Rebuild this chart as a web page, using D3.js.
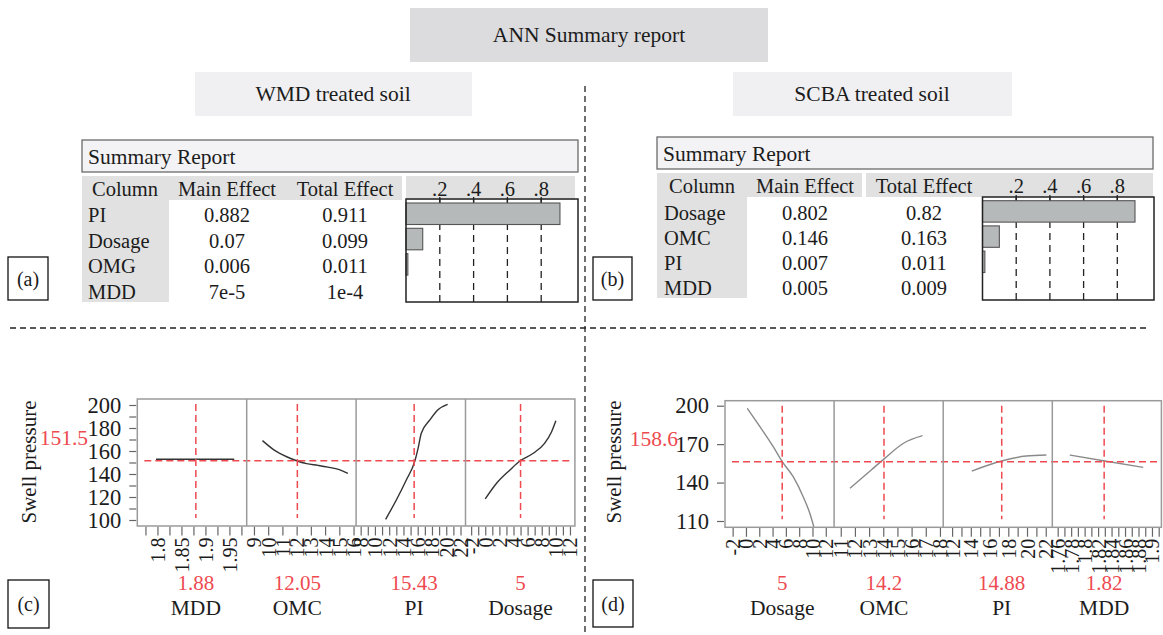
<!DOCTYPE html>
<html lang="en">
<head>
<meta charset="utf-8">
<title>ANN Summary report</title>
<style>
  body { margin: 0; background: #fff; }
  svg { font-family: "Liberation Serif", "DejaVu Serif", serif; }
</style>
</head>
<body>
<div class="graph"></div>
<script src="https://d3js.org/d3.v7.min.js"></script>
<script>
// ---- data ----
var effectTicks = [".2", ".4", ".6", ".8"];
var tableColumns = ["Column", "Main Effect", "Total Effect"];

var wmdFactors = ["PI", "Dosage", "OMG", "MDD"];
var wmdMain = ["0.882", "0.07", "0.006", "7e-5"];
var wmdTotal = ["0.911", "0.099", "0.011", "1e-4"];
var wmdBars = [0.911, 0.099, 0.011, 0.0001];

var scbaFactors = ["Dosage", "OMC", "PI", "MDD"];
var scbaMain = ["0.802", "0.146", "0.007", "0.005"];
var scbaTotal = ["0.82", "0.163", "0.011", "0.009"];
var scbaBars = [0.905, 0.1, 0.014, 0];   // bar lengths as drawn

// prediction profiler, WMD treated soil (c)
var wmdProfNames = ["MDD", "OMC", "PI", "Dosage"];
var wmdProfValues = ["1.88", "12.05", "15.43", "5"];
var wmdProfRefX = [1.88, 12.05, 15.5, 5];
var wmdProfDomains = [[1.758, 1.986], [8.49, 16.18], [7.36, 22.7], [-2.8, 12.7]];
var wmdProfTickLabels = [
  ["1.8", "1.85", "1.9", "1.95"],
  ["9", "10", "11", "12", "13", "14", "15", "16"],
  ["8", "10", "12", "14", "16", "18", "20", "22"],
  ["-2", "0", "2", "4", "6", "8", "10", "12"]
];
var wmdProfTickStep = [0.025, 1, 1, 1];
var wmdCurveX = [
  [1.797, 1.96],
  [9.6, 10.4, 11.3, 12.0, 12.7, 13.5, 14.2, 15.0, 15.6],
  [11.5, 13.0, 14.4, 15.6, 16.05, 16.5, 17.7, 18.8, 20.2],
  [0, 1.6, 3.5, 4.9, 6.8, 8.4, 9.4, 10]
];
var wmdCurveY = [
  [152.8, 152.8],
  [169, 161, 155, 151.5, 149, 147.5, 146, 143.8, 140.6],
  [100.6, 117.4, 134.8, 151.3, 162.3, 175.4, 187, 195.7, 200.6],
  [118.3, 131.9, 143.5, 151.3, 158, 166.7, 176.8, 186.3]
];
var wmdYLabels = ["100", "120", "140", "160", "180", "200"];
var wmdRefY = 151.5;
var wmdRefLabel = "151.5";

// prediction profiler, SCBA treated soil (d)
var scbaProfNames = ["Dosage", "OMC", "PI", "MDD"];
var scbaProfValues = ["5", "14.2", "14.88", "1.82"];
var scbaProfRefX = [5.45, 14.05, 17.3, 1.829];
var scbaProfDomains = [[-3.15, 13.25], [10.53, 18.23], [11.05, 22.7], [1.752, 1.914]];
var scbaProfTickLabels = [
  ["-2", "0", "2", "4", "6", "8", "10", "12"],
  ["11", "12", "13", "14", "15", "16", "17", "18"],
  ["12", "14", "16", "18", "20", "22"],
  ["1.76", "1.78", "1.8", "1.82", "1.84", "1.86", "1.88", "1.9"]
];
var scbaProfTickStep = [2, 1, 1, 0.01];
var scbaCurveX = [
  [0.2, 2.1, 4.1, 5.45, 7.1, 8.6, 9.6, 10.2],
  [11.65, 13.15, 14.1, 15.43, 16.77],
  [14.1, 17.3, 19.9, 22.07],
  [1.778, 1.83, 1.887]
];
var scbaCurveY = [
  [198, 183.6, 168, 156.3, 144.6, 129, 116, 105.5],
  [135.5, 149.8, 158.9, 170.7, 176.6],
  [149, 156.8, 160.7, 161.5],
  [161.5, 156.8, 151.9]
];
var scbaYLabels = ["110", "140", "170", "200"];
var scbaRefY = 156.3;
var scbaRefLabel = "158.6";

// ---- drawing ----
var RED = "#ee4a50";
var INK = "#1c1c1c";
var SERIF = "'Liberation Serif', 'DejaVu Serif', serif";

var svg = d3.select(".graph").append("svg")
  .attr("width", 1163).attr("height", 635);

function label(g, x, y, txt, size, anchor, color) {
  return g.append("text").attr("x", x).attr("y", y).attr("dy", "0.35em")
    .attr("text-anchor", anchor || "middle")
    .style("font-size", size + "px").attr("fill", color || INK).text(txt);
}

// titles
svg.append("rect").attr("x", 410).attr("y", 8).attr("width", 358).attr("height", 54).attr("fill", "#dcdcdf");
label(svg, 589, 34, "ANN Summary report", 21.5);
svg.append("rect").attr("x", 195).attr("y", 72).attr("width", 277).attr("height", 44).attr("fill", "#f0f0f2");
label(svg, 333, 93, "WMD treated soil", 21.5);
svg.append("rect").attr("x", 733).attr("y", 72).attr("width", 279).attr("height", 44).attr("fill", "#f0f0f2");
label(svg, 872, 93, "SCBA treated soil", 21.5);

// dashed separators
svg.append("line").attr("x1", 585).attr("x2", 585).attr("y1", 86).attr("y2", 635)
  .attr("stroke", "#222").attr("stroke-width", 1.3).attr("stroke-dasharray", "6,4");
svg.append("line").attr("x1", 10).attr("x2", 1150).attr("y1", 328).attr("y2", 328)
  .attr("stroke", "#222").attr("stroke-width", 1.3).attr("stroke-dasharray", "6,4");

function tagBox(x, y, w, h, txt) {
  svg.append("rect").attr("x", x).attr("y", y).attr("width", w).attr("height", h)
    .attr("fill", "#fff").attr("stroke", "#111").attr("stroke-width", 1.3);
  label(svg, x + w / 2, y + h / 2, txt, 20);
}
tagBox(8, 257, 40, 43, "(a)");
tagBox(593, 257, 39, 43, "(b)");
tagBox(8, 580, 41, 48, "(c)");
tagBox(593, 580, 40, 47, "(d)");

function drawSummary(o) {
  var g = svg.append("g");
  g.append("rect").attr("x", o.boxX).attr("y", o.boxY).attr("width", o.boxW).attr("height", 32)
    .attr("fill", "#f3f3f5").attr("stroke", "#6b6b6b").attr("stroke-width", 1.3);
  label(g, o.boxX + 6, o.titleY, "Summary Report", 21.5, "start");

  o.bands.forEach(function(b) {
    g.append("rect").attr("x", b[0]).attr("y", o.headY).attr("width", b[1] - b[0]).attr("height", o.headH)
      .attr("fill", "#e1e1e1");
  });
  g.append("rect").attr("x", o.boxX).attr("y", o.headY + o.headH).attr("width", o.rowLabelW)
    .attr("height", o.rowBottom - o.headY - o.headH).attr("fill", "#e1e1e1");

  var headTextY = o.headY + o.headH / 2 + 0.5;
  tableColumns.forEach(function(c, i) { label(g, o.colX[i], headTextY, c, 20.5); });

  var rowY = d3.scalePoint().domain(o.factors).range(o.rowRange);
  o.factors.forEach(function(f, i) {
    label(g, o.labelX, rowY(f), f, 20.5, "start");
    label(g, o.colX[1], rowY(f), o.main[i], 20.5);
    label(g, o.colX[2], rowY(f), o.total[i], 20.5);
  });

  // effect bar chart
  var x = d3.scaleLinear().domain([0, 1]).range([o.chartX, o.chartX + o.chartUnit]);
  var yb = d3.scaleBand().domain(o.factors).range([o.barTop, o.barTop + o.barStep * 3.85]).paddingInner(0.15);
  effectTicks.forEach(function(t) {
    label(g, x(+t), headTextY, t, 20.5);
    g.append("line").attr("x1", x(+t)).attr("x2", x(+t)).attr("y1", o.chartY - 2).attr("y2", o.chartY + 4)
      .attr("stroke", "#222").attr("stroke-width", 1.3);
    g.append("line").attr("x1", x(+t)).attr("x2", x(+t)).attr("y1", o.chartY).attr("y2", o.chartY + o.chartH)
      .attr("stroke", "#222").attr("stroke-width", 1.3).attr("stroke-dasharray", "7,5");
  });
  g.selectAll("rect.bar").data(o.bars).enter().append("rect").attr("class", "bar")
    .attr("x", x(0))
    .attr("y", function(d, i) { return yb(o.factors[i]); })
    .attr("width", function(d) { return Math.max(0, x(d) - x(0)); })
    .attr("height", yb.bandwidth())
    .attr("fill", "#b5b9ba").attr("stroke", "#555").attr("stroke-width", 1.1)
    .style("display", function(d) { return d > 0.001 ? null : "none"; });
  g.append("rect").attr("x", o.chartX).attr("y", o.chartY).attr("width", o.chartW).attr("height", o.chartH)
    .attr("fill", "none").attr("stroke", "#222").attr("stroke-width", 1.5);
}

drawSummary({
  factors: wmdFactors, main: wmdMain, total: wmdTotal, bars: wmdBars,
  boxX: 82, boxY: 140, boxW: 496, titleY: 156,
  headY: 176, headH: 24, bands: [[82, 402], [406, 575]],
  rowLabelW: 87, rowBottom: 302,
  colX: [125, 227, 345], labelX: 88, rowRange: [215, 291.5],
  chartX: 406, chartY: 199, chartW: 172, chartH: 103, chartUnit: 169,
  barTop: 203, barStep: 25.3
});

drawSummary({
  factors: scbaFactors, main: scbaMain, total: scbaTotal, bars: scbaBars,
  boxX: 657, boxY: 137, boxW: 496, titleY: 153,
  headY: 173, headH: 24, bands: [[657, 862], [866, 1153]],
  rowLabelW: 90, rowBottom: 298,
  colX: [702, 805, 924], labelX: 664, rowRange: [213, 288],
  chartX: 982.5, chartY: 197, chartW: 171.5, chartH: 103, chartUnit: 168.5,
  barTop: 200.7, barStep: 25.2
});

function near(a, b) { return Math.abs(a - b) < 1e-6; }

function drawProfiler(c) {
  var g = svg.append("g");
  var y = d3.scaleLinear().domain(c.yDomain).range(c.yRange);
  var xs = c.domains.map(function(dom, i) {
    return d3.scaleLinear().domain(dom).range([c.left + i * c.panelW, c.left + (i + 1) * c.panelW]);
  });
  var right = c.left + 4 * c.panelW;

  // y axis
  var yAxis = d3.axisLeft(y)
    .tickValues(d3.range(c.yDomain[0], c.yDomain[1] + 0.001, c.yStep))
    .tickSize(7).tickPadding(8)
    .tickFormat(function(v) { return c.yLabels.indexOf(String(v)) >= 0 ? String(v) : ""; });
  var ya = g.append("g").attr("transform", "translate(" + (c.left - 1) + ",0)").call(yAxis)
    .attr("font-family", SERIF).attr("font-size", null);
  ya.select(".domain").remove();
  ya.selectAll("line").attr("stroke", "#666").attr("stroke-width", 1.2);
  ya.selectAll("text").style("font-size", "22.5px").attr("fill", INK);

  // x axes
  xs.forEach(function(x, i) {
    var step = c.steps[i], dom = c.domains[i];
    var vals = d3.range(Math.ceil(dom[0] / step - 1e-9), Math.floor(dom[1] / step + 1e-9) + 1)
      .map(function(k) { return Math.round(k * step * 1000) / 1000; });
    var labs = c.tickLabels[i];
    var ax = d3.axisBottom(x).tickValues(vals).tickSize(9)
      .tickFormat(function(v) {
        for (var j = 0; j < labs.length; j++) if (near(+labs[j], v)) return labs[j];
        return "";
      });
    var xa = g.append("g").attr("transform", "translate(0," + (c.frameBottom + 0.5) + ")").call(ax)
      .attr("font-family", SERIF).attr("font-size", null);
    xa.select(".domain").remove();
    xa.selectAll("line").attr("stroke", "#666").attr("stroke-width", 1.2);
    xa.selectAll("text")
      .attr("transform", "rotate(-90)")
      .attr("x", -11).attr("y", 0).attr("dy", "0.35em")
      .attr("text-anchor", "end")
      .style("font-size", "20px").attr("fill", INK);
  });

  // curves
  xs.forEach(function(x, i) {
    var pts = c.curveX[i].map(function(v, j) { return [v, c.curveY[i][j]]; });
    g.append("path").datum(pts)
      .attr("d", d3.line().x(function(d) { return x(d[0]); }).y(function(d) { return y(d[1]); })
        .curve(d3.curveMonotoneX))
      .attr("fill", "none").attr("stroke", c.curveColor).attr("stroke-width", 1.4);
  });

  // reference cross-hairs
  xs.forEach(function(x, i) {
    g.append("line").attr("x1", x(c.refX[i])).attr("x2", x(c.refX[i]))
      .attr("y1", c.frameTop + 5).attr("y2", c.frameBottom - 8)
      .attr("stroke", RED).attr("stroke-width", 1.5).attr("stroke-dasharray", "7,4");
  });
  g.append("line").attr("x1", c.left + 7).attr("x2", right - 3)
    .attr("y1", y(c.refY)).attr("y2", y(c.refY))
    .attr("stroke", RED).attr("stroke-width", 1.5).attr("stroke-dasharray", "7,4");

  // frame and dividers
  g.append("rect").attr("x", c.left).attr("y", c.frameTop)
    .attr("width", right - c.left).attr("height", c.frameBottom - c.frameTop)
    .attr("fill", "none").attr("stroke", "#9a9a9a").attr("stroke-width", 1.5);
  for (var i = 1; i < 4; i++) {
    g.append("line").attr("x1", c.left + i * c.panelW).attr("x2", c.left + i * c.panelW)
      .attr("y1", c.frameTop).attr("y2", c.frameBottom)
      .attr("stroke", "#9a9a9a").attr("stroke-width", 1.5);
  }

  // labels
  label(g, c.refLabelX, c.refLabelY, c.refLabel, 21.5, "end", RED);
  g.append("text").attr("transform", "translate(" + c.titleX + "," + c.titleY + ") rotate(-90)")
    .attr("dy", "0.35em").attr("text-anchor", "middle")
    .style("font-size", "21px").attr("fill", INK).text("Swell pressure");
  xs.forEach(function(x, i) {
    label(g, x(c.refX[i]), 583, c.values[i], 21, "middle", RED);
    label(g, x(c.refX[i]), 607, c.names[i], 21.5);
  });
}

drawProfiler({
  names: wmdProfNames, values: wmdProfValues, refX: wmdProfRefX, domains: wmdProfDomains,
  tickLabels: wmdProfTickLabels, steps: wmdProfTickStep, curveX: wmdCurveX, curveY: wmdCurveY,
  yLabels: wmdYLabels, yDomain: [100, 200], yStep: 10, yRange: [520, 405],
  refY: wmdRefY, refLabel: wmdRefLabel, refLabelX: 88, refLabelY: 437,
  left: 137.3, panelW: 109.4, frameTop: 399, frameBottom: 526,
  titleX: 29, titleY: 462, curveColor: "#333"
});

drawProfiler({
  names: scbaProfNames, values: scbaProfValues, refX: scbaProfRefX, domains: scbaProfDomains,
  tickLabels: scbaProfTickLabels, steps: scbaProfTickStep, curveX: scbaCurveX, curveY: scbaCurveY,
  yLabels: scbaYLabels, yDomain: [110, 200], yStep: 30, yRange: [521, 405.7],
  refY: scbaRefY, refLabel: scbaRefLabel, refLabelX: 678, refLabelY: 438,
  left: 725, panelW: 109.1, frameTop: 400.7, frameBottom: 527.3,
  titleX: 614, titleY: 462, curveColor: "#8a8a8a"
});
</script>
</body>
</html>
